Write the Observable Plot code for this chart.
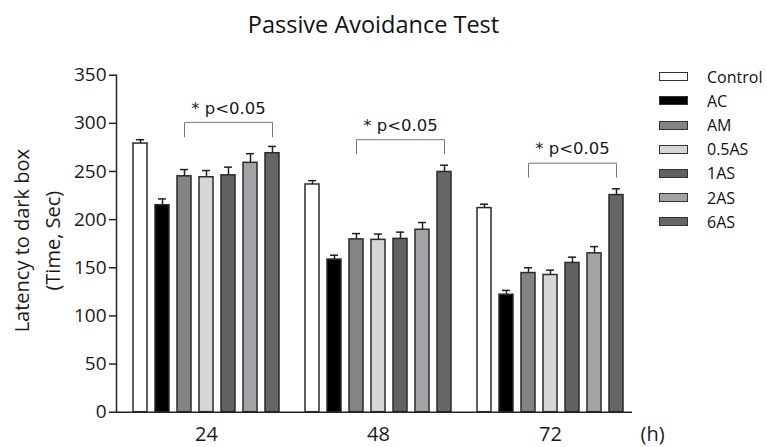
<!DOCTYPE html>
<html><head><meta charset="utf-8">
<script src="https://cdn.jsdelivr.net/npm/d3@7"></script>
<script src="https://cdn.jsdelivr.net/npm/@observablehq/plot@0.6"></script>
<style>
body{margin:0;background:#fff;}
#wrap{position:relative;width:767px;height:447px;font-family:"Open Sans",sans-serif;color:#111;overflow:hidden;}
#title{position:absolute;left:0;top:8px;width:747px;text-align:center;font-size:23.5px;line-height:32px;}
#chart{position:absolute;left:0;top:50px;}
#legend{position:absolute;left:659px;top:64.6px;}
.row{display:flex;align-items:center;height:24.2px;font-size:16px;}
.sw{width:27px;height:7px;border:1.5px solid #333;margin-right:19px;}
</style>
</head><body>
<div id="wrap">
  <div id="title">Passive Avoidance Test</div>
  <div id="chart"></div>
  <div id="legend"></div>
</div>
<script>
const title = "Passive Avoidance Test";
const times = ["24", "48", "72"];
const groups = ["Control", "AC", "AM", "0.5AS", "1AS", "2AS", "6AS"];
const fills = ["#ffffff", "#000000", "#848484", "#d6d6d6", "#626262", "#a3a3a7", "#656565"];
const means24 = [279, 215, 245, 244, 246, 259, 269];
const err24 = [4, 6.5, 7, 7, 8.5, 9.5, 7];
const means48 = [236.5, 158.5, 179.5, 179, 180, 189.5, 249.5];
const err48 = [4, 4.5, 6, 6, 7, 7.5, 7];
const means72 = [212, 122, 144.5, 142.5, 155, 165, 225.5];
const err72 = [4, 4.5, 5.5, 5, 6, 7, 6.5];
const yTicks = [0, 50, 100, 150, 200, 250, 300, 350];
const annotText = "* p<0.05";
const annotFrom = "AM", annotTo = "6AS", annotMid = "1AS";
const bracketTop = [301, 283, 258.6];
const bracketLeg = [286, 268.4, 244];
const annotY = [310, 292, 268];
const yLabel = "Latency to dark box\n(Time, Sec)";
const xUnit = "(h)";

const meansAll = [means24, means48, means72];
const errAll = [err24, err48, err72];
const rows = [];
times.forEach((t, i) => groups.forEach((g, j) => rows.push({time: t, group: g, mean: meansAll[i][j], err: errAll[i][j]})));
const bracketPts = [];
times.forEach((t, i) => {
  bracketPts.push({time: t, x: annotFrom, y: bracketLeg[i]});
  bracketPts.push({time: t, x: annotFrom, y: bracketTop[i]});
  bracketPts.push({time: t, x: annotTo, y: bracketTop[i]});
  bracketPts.push({time: t, x: annotTo, y: bracketLeg[i]});
});
const annots = times.map((t, i) => ({time: t, y: annotY[i]}));

const chart = Plot.plot({
  width: 767, height: 397,
  marginLeft: 116, marginRight: 135, marginTop: 24.7, marginBottom: 35.3,
  style: {fontFamily: "Open Sans", color: "#1a1a1a", background: "#fff", overflow: "visible"},
  fx: {domain: times, padding: 0, axis: null},
  x: {domain: groups, paddingInner: 0.375, paddingOuter: 0.527, align: 0.66, axis: null},
  y: {domain: [0, 350], axis: null},
  color: {domain: groups, range: fills},
  marks: [
    Plot.barY(rows, {fx: "time", x: "group", y: "mean", fill: "group", stroke: "#2b2b2b", strokeWidth: 1.5}),
    Plot.ruleX(rows, {fx: "time", x: "group", y1: "mean", y2: d => d.mean + d.err, stroke: "#222", strokeWidth: 1.5}),
    Plot.tickY(rows, {fx: "time", x: "group", y: d => d.mean + d.err, insetLeft: 3, insetRight: 3, stroke: "#222", strokeWidth: 1.5}),
    Plot.line(bracketPts, {fx: "time", x: "x", y: "y", z: "time", stroke: "#777", strokeWidth: 1}),
    Plot.text(annots, {fx: "time", x: () => annotMid, y: "y", text: () => annotText, lineAnchor: "bottom", fontFamily: "DejaVu Sans", fontSize: 16.5, fill: "#1a1a1a"}),
    Plot.ruleY([0], {stroke: "#222", strokeWidth: 1.5}),
    Plot.frame({anchor: "left", facetAnchor: "left", stroke: "#222", strokeWidth: 1.5}),
    Plot.axisY({ticks: yTicks, tickSize: 7, tickPadding: 3, fontSize: 19, label: null, stroke: "#222", strokeWidth: 1.5}),
    Plot.axisFx({anchor: "bottom", tickSize: 0, tickPadding: 15, fontSize: 20, label: null, dx: 4}),
    Plot.text([yLabel], {fx: ["24"], frameAnchor: "left", textAnchor: "middle", rotate: -90, dx: -82, dy: -3, lineAnchor: "middle", lineHeight: 1.55, fontSize: 20}),
    Plot.text([xUnit], {fx: ["72"], frameAnchor: "bottom-right", textAnchor: "start", lineAnchor: "bottom", dx: 8, dy: 29, fontSize: 20})
  ]
});
document.getElementById("chart").appendChild(chart);

const legend = document.getElementById("legend");
groups.forEach((g, i) => {
  const row = document.createElement("div");
  row.className = "row";
  const sw = document.createElement("div");
  sw.className = "sw";
  sw.style.background = fills[i];
  const lab = document.createElement("span");
  lab.textContent = g;
  row.appendChild(sw); row.appendChild(lab);
  legend.appendChild(row);
});
</script>
</body></html>
